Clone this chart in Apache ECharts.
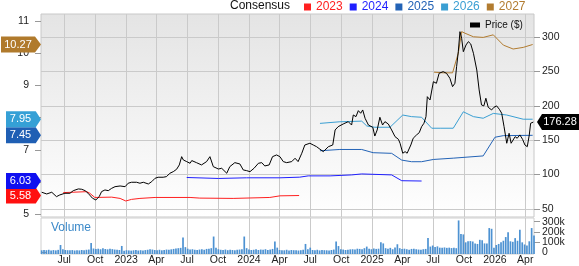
<!DOCTYPE html>
<html>
<head>
<meta charset="utf-8">
<script src="https://cdn.jsdelivr.net/npm/echarts@6/dist/echarts.min.js"></script>
<style>
html,body{margin:0;padding:0;background:#fff;}
#chart{width:579px;height:266px;}
</style>
</head>
<body>
<div id="chart"></div>
<script>
// ---------- DATA ----------
const xMin = '2022-04-23';
const xMax = '2026-04-27';
const tickDates = ['2022-07-01','2022-10-01','2023-01-01','2023-04-01','2023-07-01','2023-10-01','2024-01-01','2024-04-01','2024-07-01','2024-10-01','2025-01-01','2025-04-01','2025-07-01','2025-10-01','2026-01-01','2026-04-01'];
const tickLabels = ['Jul','Oct','2023','Apr','Jul','Oct','2024','Apr','Jul','Oct','2025','Apr','Jul','Oct','2026','Apr'];
const epsTicks = [5,6,7,8,9,10,11];
const priceTicks = [50,100,150,200,250,300];
const volTicks = [0,100,200,300];
const legendYears = ['2023','2024','2025','2026','2027'];

const eps2023 = [['2022-06-28',5.67],['2022-09-06',5.70],['2022-09-15',5.65],['2022-09-30',5.52],['2022-11-19',5.53],['2022-12-14',5.49],['2022-12-31',5.41],['2023-01-17',5.46],['2023-02-11',5.49],['2023-03-28',5.52],['2023-07-10',5.52],['2023-08-08',5.50],['2023-11-15',5.49],['2024-03-03',5.52],['2024-04-02',5.57],['2024-05-29',5.58]];
const eps2024 = [['2023-06-30',6.14],['2023-10-02',6.11],['2023-12-25',6.13],['2024-04-02',6.13],['2024-05-31',6.15],['2024-06-25',6.19],['2024-08-29',6.19],['2024-11-01',6.22],['2024-12-01',6.25],['2025-02-28',6.22],['2025-03-30',6.04],['2025-05-28',6.03]];
const eps2025 = [['2024-07-30',6.97],['2024-09-27',7.01],['2024-12-01',7.01],['2025-01-04',6.91],['2025-02-28',6.89],['2025-03-30',6.68],['2025-04-28',6.63],['2025-05-28',6.63],['2025-07-02',6.70],['2025-08-30',6.74],['2025-11-27',6.81],['2026-01-01',7.39],['2026-01-26',7.44],['2026-04-23',7.45]];
const eps2026 = [['2024-07-30',7.82],['2024-09-27',7.87],['2024-12-01',7.89],['2024-12-16',7.74],['2025-01-09',7.70],['2025-02-23',7.70],['2025-04-02',8.08],['2025-04-28',8.03],['2025-05-28',8.01],['2025-06-27',7.67],['2025-07-22',7.67],['2025-08-30',7.67],['2025-09-29',8.18],['2025-10-29',8.03],['2025-11-27',7.98],['2025-12-27',8.13],['2026-02-05',8.08],['2026-03-26',7.95],['2026-04-23',7.95]];
const eps2027 = [['2025-07-04',9.41],['2025-07-31',9.39],['2025-08-28',9.39],['2025-09-14',10.0],['2025-09-24',10.67],['2025-10-04',10.62],['2025-10-29',10.51],['2025-11-27',10.49],['2025-12-27',10.57],['2026-01-26',10.25],['2026-02-24',10.13],['2026-03-26',10.18],['2026-04-23',10.27]];

const price = [['2022-04-25',74.3],['2022-05-10',71.8],['2022-05-25',74.3],['2022-06-08',67.9],['2022-06-18',70.4],['2022-07-03',72.8],['2022-07-18',72.8],['2022-07-28',76.6],['2022-08-12',79.1],['2022-08-22',78.6],['2022-09-01',76.6],['2022-09-10',72.8],['2022-09-23',65.6],['2022-10-03',63.1],['2022-10-13',67.9],['2022-10-20',75.2],['2022-10-30',77.6],['2022-11-09',76.6],['2022-11-19',80.0],['2022-11-29',82.4],['2022-12-14',83.4],['2022-12-29',82.4],['2023-01-07',87.4],['2023-01-17',88.8],['2023-02-01',88.8],['2023-02-11',87.4],['2023-02-21',88.8],['2023-03-08',86.3],['2023-03-18',89.7],['2023-03-28',94.6],['2023-04-06',96.1],['2023-04-21',96.1],['2023-05-01',97.0],['2023-05-11',101.9],['2023-05-21',104.2],['2023-05-31',107.7],['2023-06-08',114.0],['2023-06-15',126.0],['2023-06-20',121.2],['2023-06-30',118.8],['2023-07-10',116.4],['2023-07-15',120.3],['2023-07-29',117.3],['2023-08-13',114.0],['2023-08-28',118.8],['2023-09-07',126.0],['2023-09-17',111.5],['2023-10-02',108.1],['2023-10-12',109.1],['2023-10-27',101.9],['2023-11-05',111.5],['2023-11-20',117.3],['2023-12-05',115.4],['2023-12-15',106.7],['2023-12-25',105.7],['2024-01-04',104.2],['2024-01-16',109.1],['2024-01-29',116.4],['2024-02-08',117.3],['2024-02-17',112.5],['2024-03-01',114.0],['2024-03-11',126.0],['2024-03-23',128.5],['2024-04-02',126.0],['2024-04-12',118.8],['2024-04-22',117.3],['2024-05-07',118.8],['2024-05-17',123.7],['2024-05-26',118.8],['2024-06-06',131.0],['2024-06-15',143.0],['2024-06-30',145.5],['2024-07-10',143.0],['2024-07-20',140.5],['2024-07-30',136.8],['2024-08-09',133.3],['2024-08-24',140.5],['2024-09-06',143.0],['2024-09-13',164.8],['2024-09-22',169.6],['2024-10-07',173.5],['2024-10-22',176.9],['2024-11-01',172.0],['2024-11-06',186.6],['2024-11-14',184.2],['2024-11-21',192.9],['2024-11-28',189.1],['2024-12-04',193.9],['2024-12-11',181.8],['2024-12-21',172.0],['2025-01-03',168.7],['2025-01-09',156.0],['2025-01-16',164.8],['2025-01-24',183.3],['2025-02-01',172.0],['2025-02-08',176.9],['2025-02-18',173.5],['2025-02-28',164.8],['2025-03-10',155.1],['2025-03-20',151.3],['2025-03-25',145.5],['2025-04-02',131.0],['2025-04-09',133.3],['2025-04-15',131.0],['2025-04-26',143.0],['2025-05-03',152.8],['2025-05-13',157.6],['2025-05-21',160.9],['2025-05-28',169.6],['2025-06-04',174.6],['2025-06-10',184.2],['2025-06-14',213.2],['2025-06-22',208.4],['2025-07-02',235.0],['2025-07-11',232.7],['2025-07-19',247.2],['2025-07-31',249.6],['2025-08-10',247.2],['2025-08-20',240.0],['2025-08-28',227.8],['2025-09-04',232.7],['2025-09-09',256.8],['2025-09-14',278.6],['2025-09-19',307.7],['2025-09-24',298.1],['2025-09-29',278.6],['2025-10-07',288.4],['2025-10-14',293.2],['2025-10-21',289.8],['2025-10-29',276.3],['2025-11-08',252.0],['2025-11-15',223.0],['2025-11-22',201.2],['2025-11-29',199.8],['2025-12-05',210.9],['2025-12-12',197.8],['2025-12-22',193.9],['2025-12-29',197.8],['2026-01-06',199.8],['2026-01-14',194.9],['2026-01-21',189.1],['2026-01-28',169.6],['2026-02-05',145.5],['2026-02-12',160.0],['2026-02-18',145.5],['2026-03-02',155.1],['2026-03-08',152.8],['2026-03-16',157.6],['2026-03-24',151.3],['2026-03-31',143.0],['2026-04-07',140.5],['2026-04-13',157.6],['2026-04-17',174.6],['2026-04-25',176.28]];

// weekly volume (thousands), first week starting volStart
const volStart = '2022-04-25';
const volumes = [35,38,36,40,33,37,34,39,85,45,38,36,35,37,33,36,34,38,35,40,42,105,52,48,50,45,55,47,44,50,46,42,40,38,76,30,36,34,32,35,38,33,36,34,37,40,45,42,38,36,40,35,38,42,40,44,48,52,55,58,155,65,50,42,45,40,38,42,45,40,48,50,55,165,58,45,40,38,42,36,40,38,35,40,42,45,165,55,42,38,40,44,38,42,40,45,38,42,48,117,60,38,36,35,40,34,38,36,35,33,36,40,95,45,60,38,36,40,34,38,36,35,33,38,42,117,75,45,42,38,40,44,45,42,50,48,45,55,70,50,45,52,48,50,111,100,55,50,58,45,62,92,55,48,50,45,40,48,50,45,42,40,45,48,150,70,80,65,72,60,58,62,58,60,56,58,55,317,190,185,110,120,122,118,100,95,134,130,100,98,245,238,60,85,95,112,125,160,206,120,115,150,125,229,110,90,80,120,245,175];

// ---------- CHART ----------
const FONT = "'Liberation Sans', Arial, sans-serif";
const parse = s => echarts.time.parse(s).getTime();
const toTs = arr => arr.map(p => [parse(p[0]), p[1]]);
const xMinTs = parse(xMin), xMaxTs = parse(xMax);
const tickTs = tickDates.map(parse);
const tickMap = {};
tickTs.forEach((t, i) => { tickMap[t] = tickLabels[i]; });
const v0 = parse(volStart);
const volData = volumes.map((v, i) => [v0 + i * 7 * 86400000, v]);

const colors = {'2023':'#ff2020','2024':'#1f1fff','2025':'#2363b6','2026':'#3a9fd3','2027':'#b27c30'};
const markerFill = {'2023':'#ff1010','2024':'#1010f0','2025':'#1f5fb4','2026':'#35a0d6','2027':'#b07a2c'};
const epsSets = {'2023':eps2023,'2024':eps2024,'2025':eps2025,'2026':eps2026,'2027':eps2027};

// volume pane geometry: grid top/height and value max
const VOL_TOP = 218, VOL_H = 36, VOL_MAX = 340;
// label-only grid that extends beyond the volume pane, same scale
const LBL_TOP = 204, LBL_H = 64;
const pxPerUnit = VOL_H / VOL_MAX;
const lblMax = (VOL_TOP + VOL_H - LBL_TOP) / pxPerUnit;
const lblMin = -((LBL_TOP + LBL_H) - (VOL_TOP + VOL_H)) / pxPerUnit;

function leftMarker(year) {
  const arr = epsSets[year];
  const last = arr[arr.length - 1][1];
  const w = last >= 10 ? 40 : 35;
  return {
    silent: true,
    symbol: 'path://M0,0L34,0L40,8L34,16L0,16Z',
    symbolSize: [w, 16],
    symbolOffset: [-w / 2, 0],
    itemStyle: {color: markerFill[year]},
    label: {show: true, position: 'inside', offset: [-3, 0], color: '#fff', fontSize: 11, fontFamily: FONT,
      formatter: p => Number(p.value).toFixed(2)},
    data: [{coord: [xMinTs, last], value: last}]
  };
}

const series = legendYears.map(y => ({
  name: y, type: 'line', xAxisIndex: 0, yAxisIndex: 0,
  data: toTs(epsSets[y]), showSymbol: false, symbol: 'none',
  lineStyle: {color: colors[y], width: 1}, itemStyle: {color: colors[y]},
  z: 3, markPoint: leftMarker(y)
}));

const lastPrice = price[price.length - 1][1];
series.push({
  name: 'Price ($)', type: 'line', xAxisIndex: 0, yAxisIndex: 1,
  data: toTs(price), showSymbol: false, symbol: 'none',
  lineStyle: {color: '#000', width: 1}, itemStyle: {color: '#000'}, z: 5,
  markPoint: {
    silent: true,
    symbol: 'path://M0,8L5,0L42,0L42,16L5,16Z',
    symbolSize: [42, 16],
    symbolOffset: [24, 0],
    itemStyle: {color: '#000'},
    label: {show: true, position: 'inside', offset: [2, 0], color: '#fff', fontSize: 11, fontFamily: FONT,
      formatter: p => Number(p.value).toFixed(2)},
    data: [{coord: [xMaxTs, lastPrice], value: lastPrice}]
  }
});
series.push({
  name: 'Volume', type: 'bar', xAxisIndex: 1, yAxisIndex: 2,
  data: volData, barWidth: 1.7, itemStyle: {color: '#4d92d2'}
});

const axisLabelStyle = {fontSize: 10.5, color: '#222', fontFamily: FONT};
const gridLine = {show: true, lineStyle: {color: '#cacaca', width: 1}};

function xAxis(gi, showLabels) {
  return {
    type: 'value', gridIndex: gi, min: xMinTs, max: xMaxTs,
    axisLine: {show: false},
    axisTick: {show: false, customValues: tickTs},
    splitLine: gridLine,
    axisLabel: showLabels ? Object.assign({show: true, customValues: tickTs, margin: 1,
      formatter: v => tickMap[v] || ''}, axisLabelStyle) : {show: false, customValues: tickTs}
  };
}

// volume tick labels: one axis per tick on the label grid (same scale as the volume pane)
function volLabelAxis(v) {
  return {type: 'value', gridIndex: 2, position: 'right', min: lblMin, max: lblMax,
    axisLine: {show: false}, splitLine: {show: false},
    axisTick: {show: true, length: 6, customValues: [v], lineStyle: {color: '#999'}},
    axisLabel: Object.assign({customValues: [v], margin: 8,
      formatter: x => x === 0 ? '0' : x + 'k'}, axisLabelStyle)};
}

const option = {
  animation: false,
  textStyle: {fontFamily: FONT},
  title: [
    {text: 'Consensus', left: 230, top: 0, padding: 0,
      textStyle: {fontSize: 12, fontWeight: 'normal', color: '#111', fontFamily: FONT}},
    {text: 'Volume', left: 51, top: 222, padding: 0,
      textStyle: {fontSize: 12, fontWeight: 'normal', color: '#3b89c9', fontFamily: FONT}}
  ],
  legend: [
    {data: legendYears.map(y => ({name: y, textStyle: {color: colors[y]}})),
      left: 304, top: 1, padding: 0, icon: 'rect', itemWidth: 7, itemHeight: 7, itemGap: 7,
      selectedMode: false, textStyle: {fontSize: 12, fontFamily: FONT}},
    {data: ['Price ($)'], left: 470, top: 20, padding: 0, icon: 'rect', itemWidth: 10, itemHeight: 5,
      selectedMode: false, textStyle: {fontSize: 10, color: '#111', fontFamily: FONT}}
  ],
  grid: [
    {left: 41, right: 45, top: 14, height: 203, show: true, borderColor: '#c8c8c8', borderWidth: 1,
      backgroundColor: new echarts.graphic.LinearGradient(0, 0, 0, 1, [
        {offset: 0, color: '#e4e4e4'}, {offset: 1, color: '#ffffff'}])},
    {left: 41, right: 45, top: VOL_TOP, height: VOL_H, show: true, borderColor: '#d0d0d0', borderWidth: 1,
      backgroundColor: '#ffffff'},
    {left: 41, right: 45, top: LBL_TOP, height: LBL_H, show: false}
  ],
  xAxis: [xAxis(0, false), xAxis(1, true),
    {type: 'value', gridIndex: 2, min: 0, max: 1, show: false}],
  yAxis: [
    {type: 'value', gridIndex: 0, position: 'left', min: 4.913, max: 11.217,
      axisLine: {show: false}, splitLine: {show: false},
      axisTick: {show: true, length: 6, customValues: epsTicks, lineStyle: {color: '#999'}},
      axisLabel: Object.assign({customValues: epsTicks, margin: 12}, axisLabelStyle)},
    {type: 'value', gridIndex: 0, position: 'right', min: 38.3, max: 333.4,
      axisLine: {show: false}, splitLine: gridLine,
      axisTick: {show: true, length: 6, customValues: priceTicks, lineStyle: {color: '#999'}},
      axisLabel: Object.assign({customValues: priceTicks, margin: 8}, axisLabelStyle)},
    {type: 'value', gridIndex: 1, position: 'right', min: 0, max: VOL_MAX,
      axisLine: {show: false}, splitLine: {show: false}, axisTick: {show: false}, axisLabel: {show: false}}
  ].concat(volTicks.map(volLabelAxis)),
  series: series
};

const chart = echarts.init(document.getElementById('chart'), null, {renderer: 'canvas'});
chart.setOption(option);
</script>
</body>
</html>
